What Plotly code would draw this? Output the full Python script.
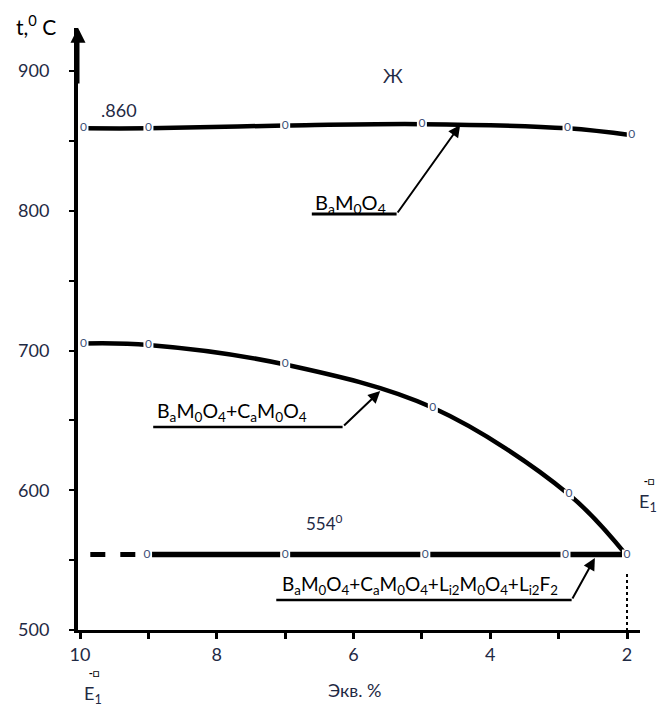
import plotly.graph_objects as go

# ---- data ----
liq_x = [9.95, 9.0, 7.0, 5.0, 2.87, 1.93]          # BaMoO4 liquidus
liq_t = [859, 859, 861, 862, 859, 854]
mid_x = [9.95, 9.0, 7.0, 4.84, 2.85, 2.0]           # BaMoO4+CaMoO4
mid_t = [705, 704, 690, 659, 597, 553]
eut_dash_x = [9.85, 9.1]                            # eutectic (dashed part)
eut_dash_t = [554, 554]
eut_x = [9.02, 7.0, 4.95, 2.9, 2.0]                 # eutectic 554
eut_t = [554, 554, 554, 554, 554]
x_ticks = [10, 9, 8, 7, 6, 5, 4, 3, 2]
x_ticktext = ["10", "", "8", "", "6", "", "4", "", "2"]
y_ticks = [500, 550, 600, 650, 700, 750, 800, 850, 900]
y_ticktext = ["500", "", "600", "", "700", "", "800", "", "900"]

NUM = "#1f2a44"
MK = "#3e5277"
FONT = "Lato"

# plot-area geometry (pixels) used to place paper-level labels
L, R, T, B = 78, 640, 28, 630

fig = go.Figure()

def curve(xs, ys, shape="spline", dash="solid", width=4.5, markers=True):
    fig.add_trace(go.Scatter(x=xs, y=ys, mode="lines", line=dict(color="black", width=width, shape=shape, dash=dash),
                             hoverinfo="skip", showlegend=False))
    if markers:
        fig.add_trace(go.Scatter(x=xs, y=ys, mode="markers+text", text=["0"] * len(xs),
                                 textposition="middle center",
                                 textfont=dict(size=12, color=MK, family=FONT),
                                 marker=dict(symbol="square", size=10, color="white"),
                                 hoverinfo="skip", showlegend=False))

curve(liq_x, liq_t)
curve(mid_x, mid_t)
curve(eut_dash_x, eut_dash_t, shape="linear", dash="dash", width=5, markers=False)
curve(eut_x, eut_t, shape="linear", width=5.5)

shapes = [
    dict(type="line", xref="x", yref="y", x0=6.61, x1=5.37, y0=797.7, y1=797.7, line=dict(color="black", width=3)),
    dict(type="line", xref="x", yref="y", x0=8.93, x1=6.16, y0=645.3, y1=645.3, line=dict(color="black", width=2.5)),
    dict(type="line", xref="x", yref="y", x0=7.13, x1=2.81, y0=521.5, y1=521.5, line=dict(color="black", width=2.5)),
    dict(type="line", xref="x", yref="y", x0=2.0, x1=2.0, y0=540, y1=500, line=dict(color="black", width=2, dash="dot")),
]

ann = []
def arrow(x, y, ax, ay, w=2):
    ann.append(dict(x=x, y=y, ax=ax, ay=ay, xref="x", yref="y", axref="x", ayref="y", text="",
                    showarrow=True, arrowhead=2, arrowsize=1.2, arrowwidth=w, arrowcolor="black"))

arrow(4.44, 861.4, 5.37, 797.7)
arrow(5.61, 671.0, 6.16, 645.3)
arrow(2.47, 551.5, 2.81, 521.5)
ann.append(dict(x=10.03, y=931, ax=10.03, ay=890, xref="x", yref="y", axref="x", ayref="y", text="",
                showarrow=True, arrowhead=2, arrowsize=1, arrowwidth=3, arrowcolor="black"))

def txt(x, y, s, size=18, color="black", xanchor="left", yanchor="middle", xref="x", yref="y"):
    ann.append(dict(x=x, y=y, xref=xref, yref=yref, text=s, showarrow=False, xanchor=xanchor, yanchor=yanchor,
                    font=dict(size=size, color=color, family=FONT)))

def ptxt(px, py, s, size=18, color="black", xanchor="left"):
    txt((px - L) / (R - L), (B - py) / (B - T), s, size=size, color=color, xanchor=xanchor,
        xref="paper", yref="paper")

lab1 = "B<sub>a</sub>M<sub>0</sub>O<sub>4</sub>"
lab2 = "B<sub>a</sub>M<sub>0</sub>O<sub>4</sub>+C<sub>a</sub>M<sub>0</sub>O<sub>4</sub>"
lab3 = lab2 + "+L<sub>i2</sub>M<sub>0</sub>O<sub>4</sub>+L<sub>i2</sub>F<sub>2</sub>"
txt(6.59, 805, lab1, size=20)
txt(8.9, 656, lab2, size=19.5)
txt(7.07, 532, lab3, size=19)
txt(6.42, 577, "554<sup>0</sup>", size=17, color=NUM, xanchor="center")
txt(9.72, 872, ".860", size=18, color=NUM)
txt(5.42, 897, "Ж", size=19, color=NUM, xanchor="center")

ptxt(14, 25, "t,<sup>0</sup> C", size=21)
ptxt(355, 690, "Экв. %", size=18, color=NUM, xanchor="center")
e1 = "<span style='font-size:11px;color:black'><b> -□</b></span><br>E<sub>1</sub>"
for (px, py) in [(648, 494), (93, 686)]:
    ann.append(dict(x=(px - L) / (R - L), y=(B - py) / (B - T), xref="paper", yref="paper", text=e1,
                    showarrow=False, xanchor="center", yanchor="middle", align="center",
                    font=dict(size=18, color=NUM, family=FONT)))

fig.update_layout(
    width=661, height=711,
    margin=dict(l=L, r=661 - R, t=T, b=711 - B),
    paper_bgcolor="white", plot_bgcolor="white",
    shapes=shapes, annotations=ann,
    xaxis=dict(range=[10.03, 1.81], tickvals=x_ticks, ticktext=x_ticktext, ticks="outside", ticklen=6,
               tickwidth=3, tickcolor="black", showline=True, linewidth=3, linecolor="black",
               showgrid=False, zeroline=False, tickfont=dict(size=18, color=NUM, family=FONT)),
    yaxis=dict(range=[500, 930.8], tickvals=y_ticks, ticktext=y_ticktext, ticks="outside", ticklen=5,
               tickwidth=2, tickcolor="black", showline=True, linewidth=4, linecolor="black",
               showgrid=False, zeroline=False, ticklabelstandoff=16,
               tickfont=dict(size=18, color=NUM, family=FONT)),
)

fig.write_html("out.html")
